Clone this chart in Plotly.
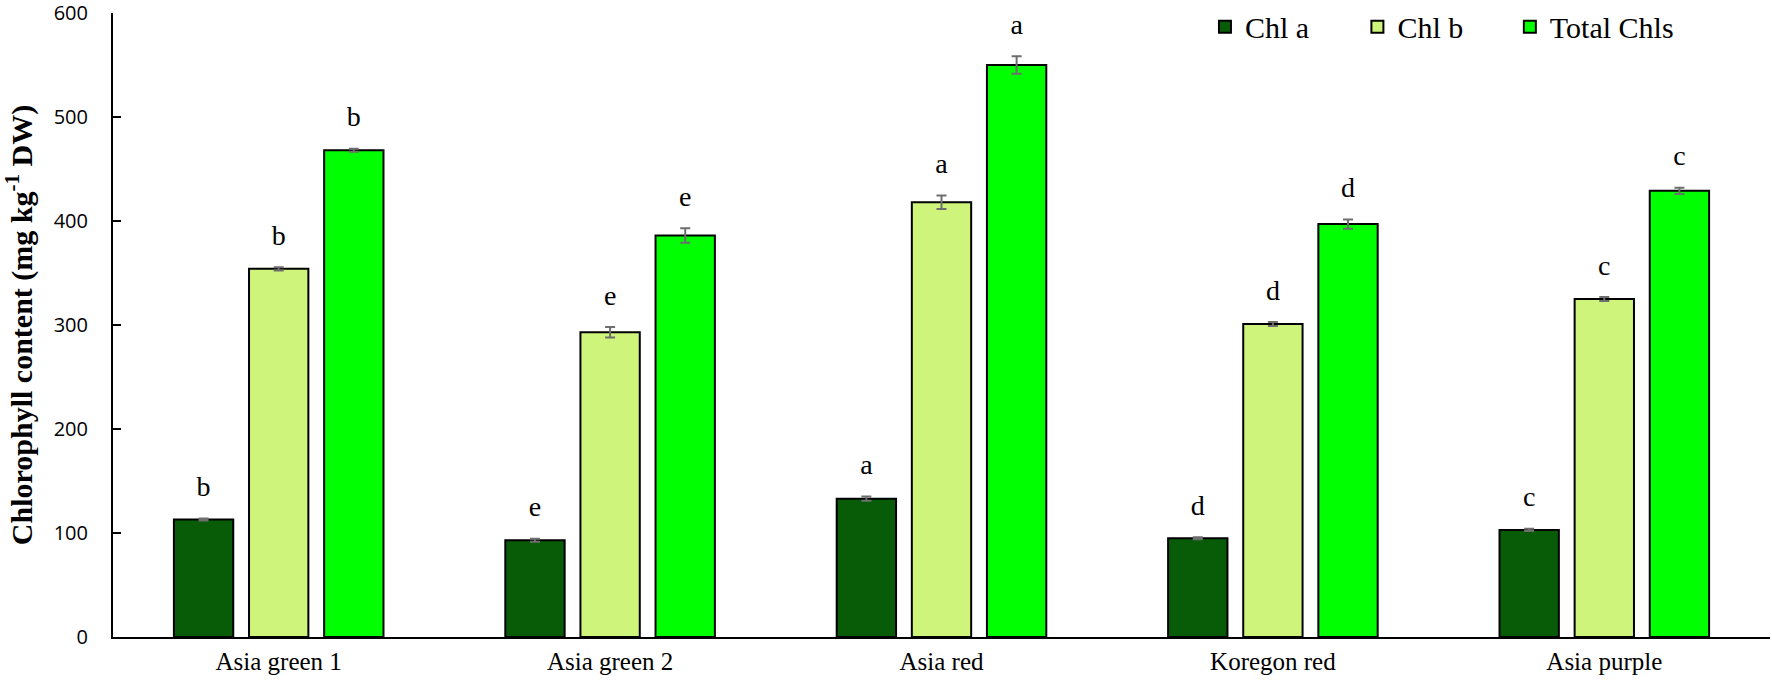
import plotly.graph_objects as go

# cultivars and chlorophyll values (mg/kg DW)
cultivars = ["Asia green 1", "Asia green 2", "Asia red", "Koregon red", "Asia purple"]

chl_a = [113, 93, 133, 95, 103]
chl_a_err = [1, 1.5, 2, 1, 1]
chl_a_letters = ["b", "e", "a", "d", "c"]

chl_b = [354, 293, 418, 301, 325]
chl_b_err = [1.5, 5, 6.5, 2, 2]
chl_b_letters = ["b", "e", "a", "d", "c"]

total = [468, 386, 550, 397, 429]
total_err = [1.5, 7, 8.5, 4.5, 3]
total_letters = ["b", "e", "a", "d", "c"]

series = [
    ("Chl a", chl_a, chl_a_err, chl_a_letters, "#085C08", "legend"),
    ("Chl b", chl_b, chl_b_err, chl_b_letters, "#CFF47C", "legend2"),
    ("Total Chls", total, total_err, total_letters, "#00FF00", "legend3"),
]

serif = "Liberation Serif, Times New Roman, serif"

fig = go.Figure()
for name, vals, errs, letters, color, leg in series:
    fig.add_trace(go.Bar(
        x=cultivars, y=vals, name=name, legend=leg,
        marker=dict(color=color, line=dict(color="black", width=2)),
        error_y=dict(type="data", array=errs, visible=True,
                     color="#6e6e6e", thickness=2, width=5),
        offsetgroup=name,
    ))

# significance letters, grouped the same way as the bars
for name, vals, errs, letters, color, leg in series:
    fig.add_trace(go.Scatter(
        x=cultivars, y=[v + e for v, e in zip(vals, errs)],
        mode="markers+text", text=letters, textposition="top center",
        marker=dict(size=23, opacity=0),
        textfont=dict(family=serif, size=28, color="black"),
        showlegend=False, hoverinfo="skip", offsetgroup=name,
    ))

legend_style = dict(orientation="h", y=0.978, xanchor="left", yanchor="middle",
                    bgcolor="rgba(0,0,0,0)",
                    font=dict(family=serif, size=30, color="black"))

fig.update_layout(
    width=1772, height=681,
    margin=dict(l=113, r=2, t=13, b=44, autoexpand=False),
    plot_bgcolor="white", paper_bgcolor="white",
    barmode="group", scattermode="group",
    bargap=0.32, bargroupgap=0.21, scattergap=0.32,
    legend=dict(x=0.659, **legend_style),
    legend2=dict(x=0.751, **legend_style),
    legend3=dict(x=0.843, **legend_style),
    xaxis=dict(showline=True, linecolor="black", linewidth=2, ticks="",
               tickfont=dict(family=serif, size=25, color="black"),
               ticklabelstandoff=1),
    yaxis=dict(range=[0, 600], dtick=100, showline=True, linecolor="black",
               linewidth=2, ticks="inside", ticklen=8, tickwidth=2,
               tickcolor="black", showgrid=False, zeroline=False,
               ticklabelstandoff=19, ticklabeloverflow="allow",
               tickfont=dict(family="Open Sans", size=20, color="black"),
               title=dict(text="<b>Chlorophyll content (mg kg<sup>-1</sup> DW)</b>",
                          font=dict(family=serif, size=30, color="black"),
                          standoff=30)),
)

# drop the page's default body margin so the figure fills the window
fig.write_html("out.html", config={"displayModeBar": False},
               post_script="document.body.style.margin='0';")
